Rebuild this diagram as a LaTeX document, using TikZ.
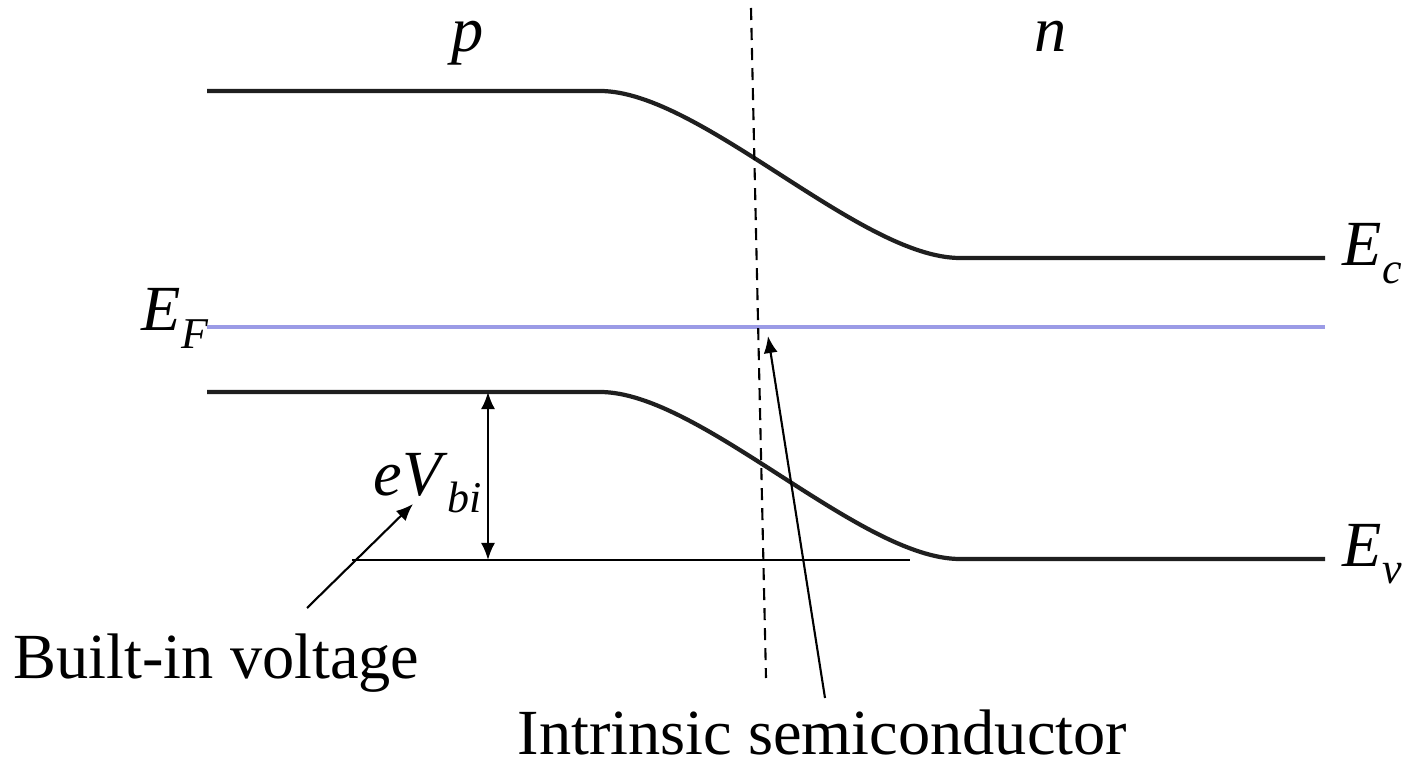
\documentclass[tikz,border=0pt]{standalone}
\usepackage{fontspec}
\setmainfont{Liberation Serif}
\usetikzlibrary{arrows.meta,calc}
\definecolor{fermiblue}{RGB}{155,155,230}
\newcommand{\lowsub}[1]{\raisebox{-0.27em}{\fontsize{12.5}{13}\selectfont\textit{#1}}}

\begin{document}
\begin{tikzpicture}[x=0.01cm,y=-0.01cm,>={Latex[length=1.7mm,width=1.4mm]},
    band/.style={line width=1.2pt,black!88},
    thin/.style={line width=0.6pt},
    lbl/.style={font=\fontsize{18.3}{20}\selectfont,inner sep=0pt}]
  \useasboundingbox (0,0) rectangle (1403,764);
  % bands
  \draw[band] (207,91) -- (600,91) .. controls (700,91) and (860,258) .. (960,258) -- (1325,258);
  \draw[band] (207,392) -- (600,392) .. controls (700,392) and (860,559) .. (960,559) -- (1325,559);
  \draw[line width=1.3pt,fermiblue] (207,327) -- (1325,327);
  % junction and reference level
  \draw[thin,dash pattern=on 1.2mm off 0.8mm] (751,8) -- (766,678);
  \draw[thin] (352,560) -- (910,560);

  \node[lbl,anchor=base] (p) at (468,52) {\textit{p}};
  \node[lbl,anchor=base] (n) at (1051,52) {\textit{n}};
  \node[lbl,anchor=base west] (Ec) at (1342,266) {\textit{E}\lowsub{c}};
  \node[lbl,anchor=base west] (Ev) at (1342,566) {\textit{E}\lowsub{v}};
  \node[lbl,anchor=base west] (EF) at (141,331) {\textit{E}\lowsub{F}};
  \node[lbl,anchor=base west] (eV) at (373,495) {\textit{eV}\lowsub{bi}};
  \node[lbl,anchor=base west] (bv) at (13,678) {Built-in voltage};
  \node[lbl,anchor=base west] (is) at (517,754) {Intrinsic semiconductor};

  \coordinate (vtop) at (488,392);
  \coordinate (vbot) at (488,560);
  \coordinate (bvtail) at (307,608);
  \coordinate (bvtip) at (413,504);
  \coordinate (istail) at (825,698);
  \coordinate (istip) at (768,336);
  \draw[thin,<->] (vtop) -- (vbot);
  \draw[thin,->] (bvtail) -- (bvtip);
  \draw[thin,->] (istail) -- (istip);
\end{tikzpicture}
\end{document}
